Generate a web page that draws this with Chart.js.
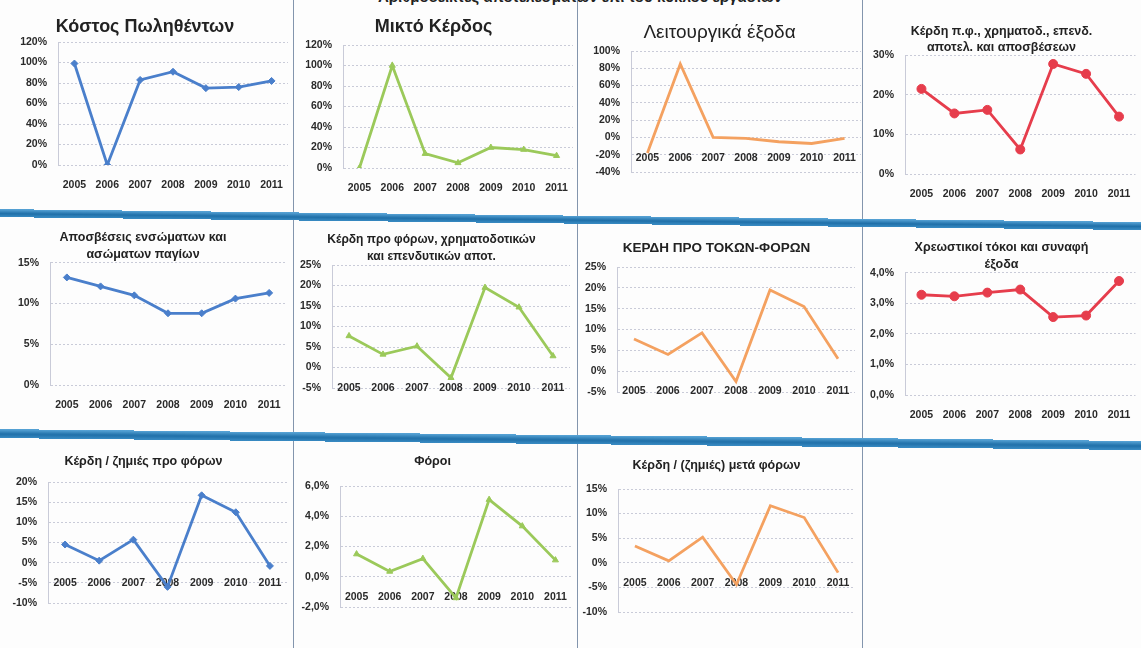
<!DOCTYPE html>
<html lang="el">
<head>
<meta charset="utf-8">
<title>Αριθμοδείκτες</title>
<script src="https://cdn.jsdelivr.net/npm/chart.js@4"></script>
<style>
html, body { margin: 0; padding: 0; background: #fff; }
#page { position: relative; width: 1141px; height: 648px; overflow: hidden; background: #fdfdfd; font-family: "Liberation Sans", Arial, sans-serif; }
#page canvas { position: absolute; }
.vsep { position: absolute; top: 0; height: 648px; width: 0; border-left: 1px solid #8395ad; }
.band { position: absolute; left: -10px; width: 1175px; background: linear-gradient(#5aa6d8, #1f6fa8 55%, #3a8cc4); transform-origin: 0 50%; }
#header { position: absolute; top: -12px; left: 300px; width: 560px; text-align: center; font-weight: bold; font-size: 15px; color: #222; }
</style>
</head>
<body>
<div id="page">
  <div id="header">Αριθμοδείκτες αποτελεσμάτων επί του κύκλου εργασιών</div>
</div>
<script>
// ---- données (en %) ----
const years = ['2005', '2006', '2007', '2008', '2009', '2010', '2011'];

const kostosPolithenton = [99, 0, 83, 91, 75, 76, 82];
const miktoKerdos = [0, 100, 14, 5, 20, 18, 12];
const leitourgikaExoda = [-18, 85, 0, -1, -5, -7, -1];
const kerdiEbitda = [21.5, 15.3, 16.2, 6.2, 27.8, 25.3, 14.5];
const aposveseis = [13.2, 12.1, 11.0, 8.8, 8.8, 10.6, 11.3];
const kerdiEbit = [7.7, 3.2, 5.2, -2.5, 19.5, 14.7, 2.8];
const kerdiProToknonForon = [7.7, 4.0, 9.2, -2.5, 19.5, 15.5, 3.0];
const xreostikoiTokoi = [3.28, 3.23, 3.35, 3.45, 2.55, 2.6, 3.73];
const kerdiProForon = [4.5, 0.5, 5.7, -6, 16.7, 12.5, -0.8];
const foroi = [1.5, 0.35, 1.2, -1.4, 5.1, 3.35, 1.1];
const kerdiMetaForon = [3.4, 0.4, 5.2, -4.4, 11.6, 9.2, -2.0];

// bornes des axes Y : [min, max, pas]
const yKostos = [0, 120, 20];
const yMikto = [0, 120, 20];
const yLeitourgika = [-40, 100, 20];
const yEbitda = [0, 30, 10];
const yAposveseis = [0, 15, 5];
const yEbit = [-5, 25, 5];
const yProTokon = [-5, 25, 5];
const yTokoi = [0, 4, 1];
const yProForon = [-10, 20, 5];
const yForoi = [-2, 6, 2];
const yMetaForon = [-10, 15, 5];

const BLUE = '#4a7fcb', GREEN = '#9bc95a', ORANGE = '#f4a160', RED = '#e63d4c';

// ---- mise en page des 11 graphiques ----
const panels = [
  { title: 'Κόστος Πωληθέντων', data: kostosPolithenton, y: yKostos, color: BLUE, point: 'rectRot', r: 3.5,
    box: [0, 0, 293, 210], plot: [58, 42, 290, 165], tSize: 18, tTop: 16 },
  { title: 'Μικτό Κέρδος', data: miktoKerdos, y: yMikto, color: GREEN, point: 'triangle', r: 3.5,
    box: [293, 0, 285, 210], plot: [343, 45, 574, 168], tSize: 18, tTop: 16 },
  { title: 'Λειτουργικά έξοδα', data: leitourgikaExoda, y: yLeitourgika, color: ORANGE, point: 'circle', r: 0,
    box: [578, 0, 284, 210], plot: [631, 51, 861, 172], tSize: 19, tTop: 21, tWeight: 'normal' },
  { title: ['Κέρδη π.φ., χρηματοδ., επενδ.', 'αποτελ. και αποσβέσεων'], data: kerdiEbitda, y: yEbitda, color: RED, point: 'circle', r: 4.5,
    box: [862, 0, 279, 210], plot: [905, 54, 1141, 174], tSize: 12.5, tLH: 1.25, tTop: 24 },
  { title: ['Αποσβέσεις ενσώματων και', 'ασώματων παγίων'], data: aposveseis, y: yAposveseis, color: BLUE, point: 'rectRot', r: 3.5,
    box: [0, 215, 293, 217], plot: [50, 262, 286, 385], tSize: 12.5, tLH: 1.35, tTop: 229 },
  { title: ['Κέρδη προ φόρων, χρηματοδοτικών', 'και επενδυτικών αποτ.'], data: kerdiEbit, y: yEbit, color: GREEN, point: 'triangle', r: 3.5,
    box: [293, 215, 285, 217], plot: [332, 265, 570, 388], tSize: 12, tLH: 1.35, tTop: 232 },
  { title: 'ΚΕΡΔΗ ΠΡΟ ΤΟΚΩΝ-ΦΟΡΩΝ', data: kerdiProToknonForon, y: yProTokon, color: ORANGE, point: 'circle', r: 0,
    box: [578, 215, 284, 217], plot: [617, 267, 855, 392], tSize: 13.5, tTop: 240 },
  { title: ['Χρεωστικοί τόκοι και συναφή', 'έξοδα'], data: xreostikoiTokoi, y: yTokoi, color: RED, point: 'circle', r: 4.5, dec: true,
    box: [862, 215, 279, 217], plot: [905, 272, 1141, 395], tSize: 12.5, tLH: 1.35, tTop: 239 },
  { title: 'Κέρδη / ζημιές προ φόρων', data: kerdiProForon, y: yProForon, color: BLUE, point: 'rectRot', r: 3.5,
    box: [0, 432, 293, 216], plot: [48, 482, 287, 603], tSize: 12.5, tTop: 454 },
  { title: 'Φόροι', data: foroi, y: yForoi, color: GREEN, point: 'triangle', r: 3.5, dec: true,
    box: [293, 432, 285, 216], plot: [340, 486, 572, 607], tSize: 12.5, tTop: 454 },
  { title: 'Κέρδη / (ζημιές) μετά φόρων', data: kerdiMetaForon, y: yMetaForon, color: ORANGE, point: 'circle', r: 0,
    box: [578, 432, 284, 216], plot: [618, 489, 855, 612], tSize: 12.5, tTop: 458 }
];

const page = document.getElementById('page');
const tickFont = { family: '"Liberation Sans", Arial, sans-serif', size: 10.5, weight: 'bold' };

function buildChart(p) {
  const [bx, by, bw, bh] = p.box;
  const [pl, pt, pr, pb] = p.plot;
  const lines = Array.isArray(p.title) ? p.title.length : 1;
  const lh = p.tLH || 1.2;
  const padTop = p.tTop - by;
  const padBottom = Math.max(0, pt - by - padTop - lines * p.tSize * lh);

  const canvas = document.createElement('canvas');
  canvas.width = bw; canvas.height = bh;
  canvas.style.left = bx + 'px'; canvas.style.top = by + 'px';
  page.appendChild(canvas);

  new Chart(canvas, {
    type: 'line',
    data: {
      labels: years,
      datasets: [{
        data: p.data,
        borderColor: p.color,
        backgroundColor: p.color,
        borderWidth: 2.8,
        pointStyle: p.point,
        pointRadius: p.r,
        pointBorderWidth: 1,
        tension: 0
      }]
    },
    options: {
      responsive: false,
      animation: false,
      layout: { padding: { left: 0, top: 0, right: bx + bw - pr, bottom: by + bh - pb } },
      plugins: {
        legend: { display: false },
        tooltip: { enabled: false },
        title: {
          display: true,
          text: p.title,
          color: '#222',
          font: { family: '"Liberation Sans", Arial, sans-serif', size: p.tSize, weight: p.tWeight || 'bold', lineHeight: lh },
          padding: { top: padTop, bottom: padBottom }
        }
      },
      scales: {
        x: {
          position: { y: 0 },
          offset: true,
          grid: { display: false },
          border: { display: false },
          ticks: { color: '#2a2a2a', font: tickFont, padding: 6, maxRotation: 0, autoSkip: false }
        },
        y: {
          min: p.y[0], max: p.y[1],
          afterFit: s => { s.width = pl - bx; },
          grid: { color: '#c9cbd8', lineWidth: 1, drawTicks: false },
          border: { display: true, color: '#c9cbd8', dash: [2, 2] },
          ticks: {
            stepSize: p.y[2],
            color: '#2a2a2a',
            font: tickFont,
            padding: 11,
            callback: v => p.dec ? v.toFixed(1).replace('.', ',') + '%' : Math.round(v) + '%'
          }
        }
      }
    }
  });
}

panels.forEach(buildChart);

// séparateurs : bandes bleues et traits verticaux
[[293], [577], [862]].forEach(([x]) => {
  const d = document.createElement('div');
  d.className = 'vsep';
  d.style.left = x + 'px';
  page.appendChild(d);
});
[[209, 8, 0.65], [429, 9, 0.6]].forEach(([top, h, deg]) => {
  const d = document.createElement('div');
  d.className = 'band';
  d.style.top = top + 'px';
  d.style.height = h + 'px';
  d.style.transform = 'rotate(' + deg + 'deg)';
  page.appendChild(d);
});
</script>
</body>
</html>
